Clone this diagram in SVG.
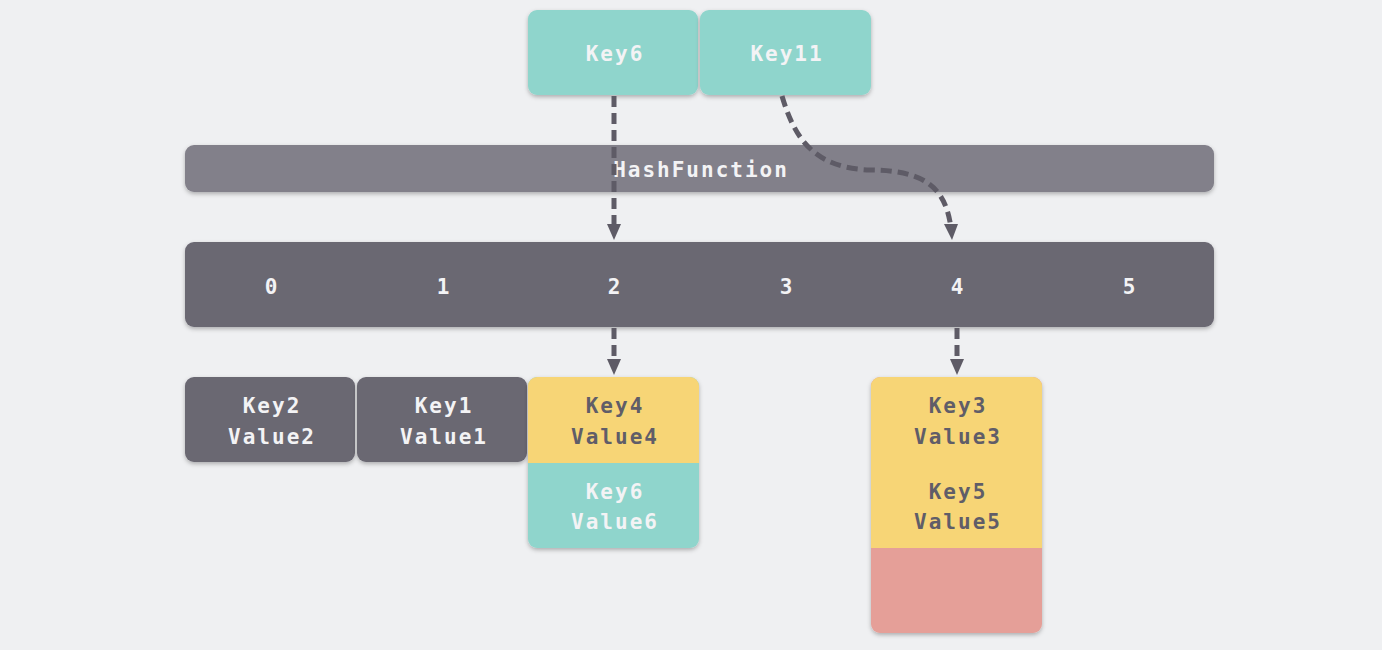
<svg xmlns="http://www.w3.org/2000/svg" width="1382" height="650" viewBox="0 0 1382 650">
<defs>
<filter id="sh" x="-10%" y="-10%" width="120%" height="130%">
<feDropShadow dx="0" dy="2" stdDeviation="2" flood-color="#000" flood-opacity="0.28"/>
</filter>
<clipPath id="c4"><rect x="528" y="377" width="171" height="171" rx="9"/></clipPath>
<clipPath id="c3"><rect x="871" y="377" width="171" height="256" rx="9"/></clipPath>
</defs>
<style>
text{font-family:"DejaVu Sans Mono","Liberation Mono",monospace;font-size:21px;font-weight:bold;letter-spacing:2px;text-anchor:middle}
.w{fill:#f3f3f5}
.d{fill:#605d68}
.con{fill:none;stroke:#5e5b66;stroke-width:5;stroke-dasharray:11 6}
.ah{fill:#5e5b66}
</style>
<rect width="1382" height="650" fill="#eff0f2"/>
<g id="key6">
<rect x="528" y="10" width="170" height="85" rx="9" fill="#8fd5cc" filter="url(#sh)"/>
<text class="w" x="615" y="61">Key6</text>
</g>
<g id="key11">
<rect x="700" y="10" width="171" height="85" rx="9" fill="#8fd5cc" filter="url(#sh)"/>
<text class="w" x="787" y="61">Key11</text>
</g>
<g id="hash">
<rect x="185" y="145" width="1029" height="47" rx="9" fill="#82808a" filter="url(#sh)"/>
<text class="w" x="701" y="177">HashFunction</text>
</g>
<g id="array">
<rect x="185" y="242" width="1029" height="85" rx="9" fill="#6a6772" filter="url(#sh)"/>
<text class="w" x="272" y="294">0</text>
<text class="w" x="444" y="294">1</text>
<text class="w" x="615" y="294">2</text>
<text class="w" x="787" y="294">3</text>
<text class="w" x="958" y="294">4</text>
<text class="w" x="1130" y="294">5</text>
</g>
<g id="kv2">
<rect x="185" y="377" width="170" height="85" rx="9" fill="#6a6772" filter="url(#sh)"/>
<text class="w" x="272" y="413">Key2</text>
<text class="w" x="272" y="444">Value2</text>
</g>
<g id="kv1">
<rect x="357" y="377" width="170" height="85" rx="9" fill="#6a6772" filter="url(#sh)"/>
<text class="w" x="444" y="413">Key1</text>
<text class="w" x="444" y="444">Value1</text>
</g>
<g id="bucket2">
<rect x="528" y="377" width="171" height="171" rx="9" fill="#8fd5cc" filter="url(#sh)"/>
<rect x="528" y="377" width="171" height="86" fill="#f7d576" clip-path="url(#c4)"/>
<text class="d" x="615" y="413">Key4</text>
<text class="d" x="615" y="444">Value4</text>
<text class="w" x="615" y="499">Key6</text>
<text class="w" x="615" y="529">Value6</text>
</g>
<g id="bucket4">
<rect x="871" y="377" width="171" height="256" rx="9" fill="#e59f98" filter="url(#sh)"/>
<rect x="871" y="377" width="171" height="171" fill="#f7d576" clip-path="url(#c3)"/>
<text class="d" x="958" y="413">Key3</text>
<text class="d" x="958" y="444">Value3</text>
<text class="d" x="958" y="499">Key5</text>
<text class="d" x="958" y="529">Value5</text>
</g>
<g id="connectors">
<path class="con" d="M614,96 L614,228"/>
<path class="ah" d="M607,224 L621,224 L614,240 Z"/>
<path class="con" d="M782,96 C795,140 815,168 870,170 C930,170 946,192 951,228"/>
<path class="ah" d="M944,224 L958,224 L952,240 Z"/>
<path class="con" d="M614,328 L614,362"/>
<path class="ah" d="M607,359 L621,359 L614,375 Z"/>
<path class="con" d="M957,328 L957,362"/>
<path class="ah" d="M950,359 L964,359 L957,375 Z"/>
</g>
</svg>
